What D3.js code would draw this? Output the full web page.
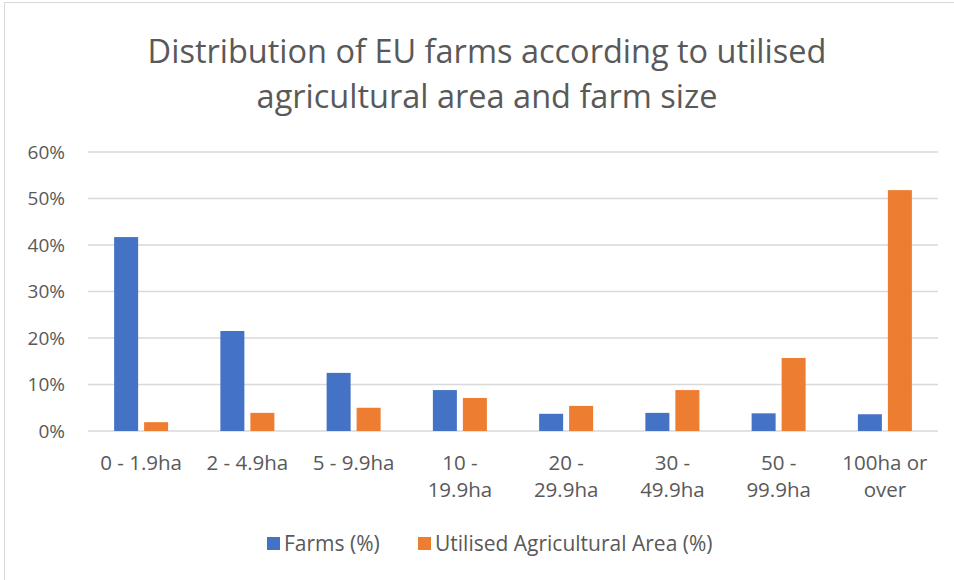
<!DOCTYPE html>
<html>
<head>
<meta charset="utf-8">
<script src="https://cdn.jsdelivr.net/npm/d3@7"></script>
<style>
  body { margin: 0; background: #fff; }
  text { font-family: "Open Sans", Lato, sans-serif; fill: #595959; }
</style>
</head>
<body>
<div id="chart"></div>
<script>
// chart data
const categories = ["0 - 1.9ha", "2 - 4.9ha", "5 - 9.9ha", "10 - 19.9ha", "20 - 29.9ha", "30 - 49.9ha", "50 - 99.9ha", "100ha or over"];
const categoryLines = [["0 - 1.9ha"], ["2 - 4.9ha"], ["5 - 9.9ha"], ["10 -", "19.9ha"], ["20 -", "29.9ha"], ["30 -", "49.9ha"], ["50 -", "99.9ha"], ["100ha or", "over"]];
const seriesNames = ["Farms (%)", "Utilised Agricultural Area (%)"];
const farms = [41.7, 21.5, 12.5, 8.8, 3.7, 3.9, 3.8, 3.6];
const uaa = [1.9, 3.9, 5.0, 7.1, 5.4, 8.8, 15.7, 51.8];
const yTicks = [0, 10, 20, 30, 40, 50, 60];
const colors = ["#4472c4", "#ed7d31"];
const titleLines = ["Distribution of EU farms according to utilised", "agricultural area and farm size"];

const W = 954, H = 580;
const margin = { top: 152, right: 16, bottom: 149, left: 88 };
const width = W - margin.left - margin.right,
      height = H - margin.top - margin.bottom;

const svg = d3.select("#chart").append("svg")
    .attr("width", W)
    .attr("height", H);

// outer chart border
svg.append("rect")
    .attr("x", 4.5).attr("y", 2.5)
    .attr("width", W).attr("height", H)
    .attr("fill", "none")
    .attr("stroke", "#d9d9d9")
    .attr("stroke-width", 1);

// title
svg.append("g").selectAll("text")
    .data(titleLines)
    .enter().append("text")
    .attr("x", 487)
    .attr("y", (d, i) => 63 + i * 45)
    .attr("text-anchor", "middle")
    .style("font-size", "32.5px")
    .text(d => d);

const g = svg.append("g")
    .attr("transform", "translate(" + margin.left + "," + margin.top + ")");

const y = d3.scaleLinear().domain([0, 60]).range([height, 0]);
const x0 = d3.scaleBand().domain(categories).range([0, width]).padding(0);
const x1 = d3.scaleBand().domain(seriesNames)
    .range([x0.bandwidth() / 2 - 27, x0.bandwidth() / 2 + 27])
    .paddingInner(0.2);

// gridlines
g.selectAll(".grid")
    .data(yTicks)
    .enter().append("line")
    .attr("class", "grid")
    .attr("x1", 0).attr("x2", width)
    .attr("y1", d => y(d)).attr("y2", d => y(d))
    .attr("stroke", "#d9d9d9")
    .attr("stroke-width", 1.5);

// y labels
g.selectAll(".ylab")
    .data(yTicks)
    .enter().append("text")
    .attr("class", "ylab")
    .attr("x", -23)
    .attr("y", d => y(d))
    .attr("dy", "0.36em")
    .attr("text-anchor", "end")
    .style("font-size", "19px")
    .text(d => d + "%");

// bars
const seriesData = [farms, uaa];
seriesData.forEach(function (vals, s) {
    g.selectAll(".bar" + s)
        .data(vals)
        .enter().append("rect")
        .attr("class", "bar" + s)
        .attr("x", (d, i) => x0(categories[i]) + x1(seriesNames[s]))
        .attr("y", d => y(d))
        .attr("width", x1.bandwidth())
        .attr("height", d => y(0) - y(d))
        .attr("fill", colors[s]);
});

// x labels
const xl = g.selectAll(".xlab")
    .data(categoryLines)
    .enter().append("text")
    .attr("class", "xlab")
    .attr("text-anchor", "middle")
    .style("font-size", "20.5px")
    .attr("transform", (d, i) => "translate(" + (x0(categories[i]) + x0.bandwidth() / 2) + "," + (height + 39) + ")");
xl.selectAll("tspan")
    .data(d => d)
    .enter().append("tspan")
    .attr("x", 0)
    .attr("y", (d, i) => i * 27)
    .text(d => d);

// legend
const legendX = [267, 418];
const legend = svg.selectAll(".legend")
    .data(seriesNames)
    .enter().append("g")
    .attr("class", "legend")
    .attr("transform", (d, i) => "translate(" + legendX[i] + ",537)");
legend.append("rect")
    .attr("width", 13).attr("height", 13)
    .attr("fill", (d, i) => colors[i]);
legend.append("text")
    .attr("x", 17).attr("y", 14)
    .style("font-size", "21px")
    .text(d => d);
</script>
</body>
</html>
